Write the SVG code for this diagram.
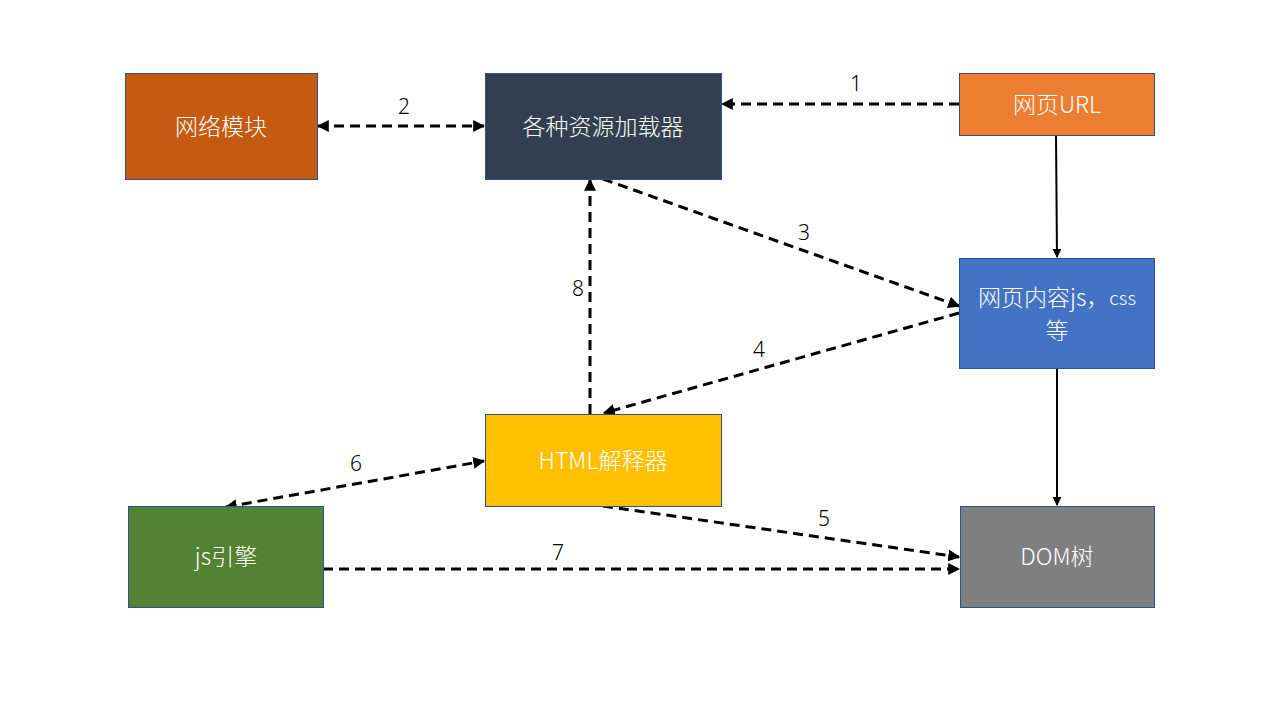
<svg xmlns="http://www.w3.org/2000/svg" width="1280" height="720" viewBox="0 0 1280 720">
  <style>
    .box { stroke: #2F528F; stroke-width: 1; }
    .label { font-family: "Noto Sans CJK SC", "Noto Sans", sans-serif; font-size: 23px; font-weight: 300; fill: #FFFFFF; text-anchor: middle; dominant-baseline: central; }
    .num { font-family: "Noto Sans", "Noto Sans CJK SC", sans-serif; font-size: 21px; font-weight: 300; fill: #000000; text-anchor: middle; dominant-baseline: central; }
    .dash { fill: none; stroke: #000000; stroke-width: 3; stroke-dasharray: 10 6; }
    .solid { fill: none; stroke: #000000; stroke-width: 2; }
  </style>
  <defs>
    <marker id="arrow" viewBox="0 0 10 10" refX="9" refY="5" markerWidth="4" markerHeight="4" orient="auto-start-reverse" markerUnits="strokeWidth">
      <path d="M0,0 L10,5 L0,10 Z" fill="#000000"/>
    </marker>
    <marker id="arrowThin" viewBox="0 0 10 10" refX="9" refY="5" markerWidth="4.5" markerHeight="4.5" orient="auto" markerUnits="strokeWidth">
      <path d="M0,0 L10,5 L0,10 Z" fill="#000000"/>
    </marker>
  </defs>

  <rect width="1280" height="720" fill="#FFFFFF"/>

  <!-- connectors and their step numbers -->
  <g id="connectors">
    <line class="dash" x1="959" y1="104" x2="722" y2="104" marker-end="url(#arrow)"/>
    <line class="dash" x1="318" y1="126" x2="484" y2="126" marker-start="url(#arrow)" marker-end="url(#arrow)"/>
    <line class="dash" x1="603" y1="179" x2="959" y2="306" marker-end="url(#arrow)"/>
    <line class="dash" x1="959" y1="313" x2="604" y2="413" marker-end="url(#arrow)"/>
    <line class="dash" x1="603" y1="506" x2="959" y2="557" marker-end="url(#arrow)"/>
    <line class="dash" x1="226" y1="507" x2="484" y2="461" marker-start="url(#arrow)" marker-end="url(#arrow)"/>
    <line class="dash" x1="323" y1="569" x2="959" y2="569" marker-end="url(#arrow)"/>
    <line class="dash" x1="590" y1="414" x2="590" y2="180" marker-end="url(#arrow)"/>
    <line class="solid" x1="1056" y1="135" x2="1057" y2="257" marker-end="url(#arrowThin)"/>
    <line class="solid" x1="1057" y1="368" x2="1057" y2="505" marker-end="url(#arrowThin)"/>

    <text class="num" x="856" y="83">1</text>
    <text class="num" x="404" y="106">2</text>
    <text class="num" x="804" y="232">3</text>
    <text class="num" x="759" y="349">4</text>
    <text class="num" x="824" y="518">5</text>
    <text class="num" x="356" y="463">6</text>
    <text class="num" x="558" y="552">7</text>
    <text class="num" x="578" y="288">8</text>
  </g>

  <g id="network">
    <rect class="box" x="125.5" y="73.5" width="192" height="106" fill="#C55A11"/>
    <text class="label" x="221" y="125">网络模块</text>
  </g>
  <g id="loader">
    <rect class="box" x="485.5" y="73.5" width="236" height="106" fill="#333F50"/>
    <text class="label" x="603" y="125">各种资源加载器</text>
  </g>
  <g id="url">
    <rect class="box" x="959.5" y="73.5" width="195" height="62" fill="#ED7D31"/>
    <text class="label" x="1057" y="103">网页URL</text>
  </g>
  <g id="content">
    <rect class="box" x="959.5" y="258.5" width="195" height="110" fill="#4472C4"/>
    <text class="label" x="1057" y="296" font-size="22px">网页内容js，<tspan font-size="19px">css</tspan><tspan x="1057" dy="33">等</tspan></text>
  </g>
  <g id="html">
    <rect class="box" x="485.5" y="414.5" width="236" height="92" fill="#FFC000"/>
    <text class="label" x="603" y="459">HTML解释器</text>
  </g>
  <g id="js">
    <rect class="box" x="128.5" y="506.5" width="195" height="101" fill="#548235"/>
    <text class="label" x="226" y="555">js引擎</text>
  </g>
  <g id="dom">
    <rect class="box" x="960.5" y="506.5" width="194" height="101" fill="#7F7F7F"/>
    <text class="label" x="1057" y="555">DOM树</text>
  </g>
</svg>
